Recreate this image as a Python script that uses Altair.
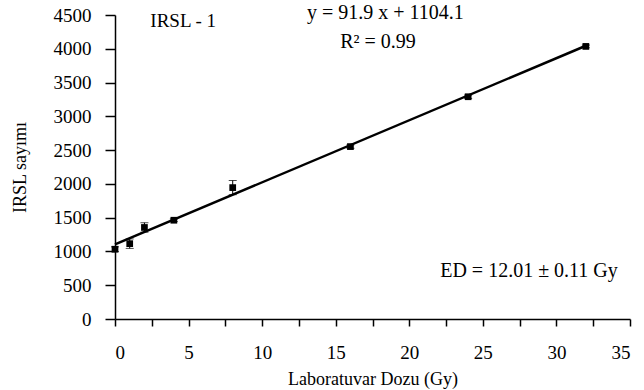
import altair as alt
import pandas as pd

dose = [0, 1, 2, 4, 8, 16, 24, 32]
counts = [1033, 1115, 1355, 1462, 1945, 2552, 3290, 4035]
errors = [35, 70, 70, 20, 105, 25, 25, 20]

fit_x = [0, 32]
slope = 91.9
intercept = 1104.1

x_ticks = [0, 2.5, 5, 7.5, 10, 12.5, 15, 17.5, 20, 22.5, 25, 27.5, 30, 32.5, 35]
y_ticks = [0, 500, 1000, 1500, 2000, 2500, 3000, 3500, 4000, 4500]

notes = ["IRSL - 1", "y = 91.9 x + 1104.1", "R² = 0.99", "ED = 12.01 ± 0.11  Gy"]
note_x = [2.4, 13.05, 15.3, 22.1]
note_y = [4410, 4530, 4100, 711]
note_size = [19, 20, 20, 20]

FONT = "Liberation Serif"

pts_df = pd.DataFrame({"x": dose, "y": counts})
err_rows = []
for i, (xv, yv, ev) in enumerate(zip(dose, counts, errors)):
    err_rows.append({"x": xv, "y": yv - ev, "g": i})
    err_rows.append({"x": xv, "y": yv + ev, "g": i})
err_df = pd.DataFrame(err_rows)
fit_df = pd.DataFrame({"x": fit_x, "y": [slope * v + intercept for v in fit_x]})
note_df = pd.DataFrame({"x": note_x, "y": note_y, "t": notes, "s": note_size})

xs = alt.Scale(domain=[0, 35], nice=False)
ys = alt.Scale(domain=[0, 4500], nice=False)

xaxis = alt.Axis(values=x_ticks,
                 labelExpr="datum.value % 5 == 0 ? format(datum.value, 'd') : ''",
                 title="Laboratuvar Dozu (Gy)", tickSize=7, labelPadding=17,
                 titlePadding=8, grid=False, tickColor="black", labelFontSize=19,
                 labelFont=FONT, titleFont=FONT, titleFontSize=18,
                 titleFontWeight="normal", labelColor="black", titleColor="black",
                 domainColor="black", domainWidth=1.5, tickWidth=1.5)
yaxis = alt.Axis(values=y_ticks, title="IRSL sayımı", tickSize=10, format="d",
                 labelPadding=14, titlePadding=24, grid=False, tickColor="black",
                 labelFontSize=19, labelFont=FONT, titleFont=FONT, titleFontSize=18,
                 titleFontWeight="normal", labelColor="black", titleColor="black",
                 domainColor="black", domainWidth=1.5, tickWidth=1.5)

X = alt.X("x:Q", scale=xs, axis=xaxis)
Y = alt.Y("y:Q", scale=ys, axis=yaxis)

line = alt.Chart(fit_df).mark_line(color="black", strokeWidth=2.5).encode(x=X, y=Y)
bars = alt.Chart(err_df).mark_line(color="black", strokeWidth=1).encode(
    x=X, y=Y, detail="g:N")
caps = alt.Chart(err_df).mark_tick(color="black", size=8, thickness=1,
                                   orient="horizontal").encode(x=X, y=Y)
pts = alt.Chart(pts_df).mark_square(color="black", size=45, opacity=1).encode(x=X, y=Y)
texts = alt.Chart(note_df).mark_text(font=FONT, color="black", align="left",
                                     baseline="middle").encode(
    x=X, y=Y, text="t:N", size=alt.Size("s:Q", scale=None, legend=None))

chart = alt.layer(line, bars, caps, pts, texts).properties(
    width=515, height=304, padding={"left": 115, "top": 15, "right": 14, "bottom": 71},
    autosize=alt.AutoSizeParams(type="none"), background="white"
).configure_view(stroke=None)

chart.save("out.html", embed_options={"renderer": "svg", "actions": False})
